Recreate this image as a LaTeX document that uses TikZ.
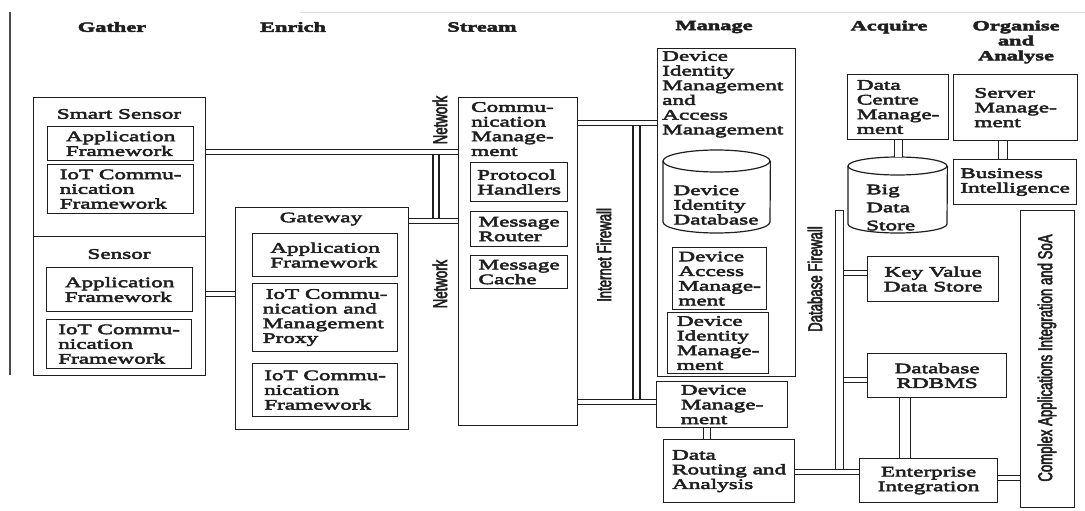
\documentclass[tikz,border=0pt]{standalone}
\usepackage{fontspec}
\setmainfont{Liberation Serif}[FakeStretch=1.6,FakeBold=3.5]
\newfontfamily\labelsans{Liberation Sans}[FakeStretch=0.66,FakeBold=2.5]
\newcommand\diagfont{\fontsize{14.5}{14.7}\selectfont}
\newcommand\headfont{\fontsize{14}{15}\selectfont\bfseries}
\newcommand\rotfont{\labelsans\fontsize{20}{22}\selectfont}
\definecolor{ink}{gray}{0.12}
\begin{document}
\begin{tikzpicture}[x=1pt,y=-1pt,
  ln/.style={draw=ink,line width=1.2pt},
  ibox/.style={ln,rectangle,anchor=north west,inner sep=0pt,align=left,font=\diagfont,text=ink},
  cbox/.style={ibox,align=center},
  outerbox/.style={ln,rectangle,anchor=north west,inner sep=0pt},
  txt/.style={inner sep=0pt,font=\diagfont,text=ink,align=left},
  hdr/.style={inner sep=0pt,font=\headfont,text=ink,align=center},
  sidelabel/.style={inner sep=0pt,font=\rotfont,text=ink,rotate=90},
  rails/.style 2 args={draw=ink,line width=#1,postaction={draw=white,line width=#2}},
  hlink/.style={rails={5.6pt}{3.2pt}}]

\useasboundingbox (0,0) rectangle (1085,511);
\fill[white] (0,0) rectangle (1085,511);
% page edges
\draw[black!70,line width=1.6pt] (10,12) -- (10,375);
\draw[black!12,line width=0.8pt] (300,12) -- (1085,12);

% column headings
\node[hdr] (hgather) at (112,27) {Gather};
\node[hdr] (henrich) at (293,27) {Enrich};
\node[hdr] (hstream) at (482,27) {Stream};
\node[hdr] (hmanage) at (714,27) {Manage};
\node[hdr] (hacquire) at (889,27) {Acquire};
\node[hdr] (horganise) at (1016,42) {Organise\\and\\Analyse};

% Gather: sensors
\node[outerbox,minimum width=172pt,minimum height=139pt] (ss) at (33,97) {};
\node[txt] (sstitle) at (119,114) {Smart Sensor};
\node[ibox,minimum width=146pt,minimum height=34pt] (ssapp) at (47,126) {Application\\Framework};
\node[ibox,minimum width=146pt,minimum height=49pt] (ssiot) at (47,164) {IoT Commu-\\nication\\Framework};
\node[outerbox,minimum width=172pt,minimum height=139pt] (sn) at (33,236) {};
\node[txt] (sntitle) at (119,254) {Sensor};
\node[ibox,minimum width=146pt,minimum height=44pt] (snapp) at (46,267) {Application\\Framework};
\node[ibox,minimum width=145pt,minimum height=49pt] (sniot) at (46,319) {IoT Commu-\\nication\\Framework};

% Enrich: gateway
\node[outerbox,minimum width=173pt,minimum height=222pt] (gw) at (235,207) {};
\node[txt] (gwtitle) at (321,219) {Gateway};
\node[ibox,minimum width=145pt,minimum height=43pt] (gwapp) at (252,233) {Application\\Framework};
\node[ibox,minimum width=145pt,minimum height=68pt] (gwproxy) at (252,283) {\hspace*{3pt}IoT Commu-\\nication and\\Management\\Proxy};
\node[ibox,minimum width=145pt,minimum height=53pt] (gwiot) at (252,363) {IoT Commu-\\nication\\Framework};

% Stream: communication management
\node[outerbox,minimum width=119pt,minimum height=328pt] (st) at (458,97) {};
\node[txt,anchor=north west] (sttitle) at (471,102) {Commu-\\nication\\Manage-\\ment};
\node[ibox,minimum width=97pt,minimum height=39pt] (stph) at (470,162) {Protocol\\Handlers};
\node[ibox,minimum width=97pt,minimum height=35pt] (stmr) at (470,211) {Message\\Router};
\node[ibox,minimum width=97pt,minimum height=33pt] (stmc) at (470,255) {Message\\Cache};

% Manage
\node[outerbox,minimum width=138pt,minimum height=328pt] (mg) at (657,48) {};
\node[txt,anchor=north west] (mgtitle) at (662,51) {Device\\Identity\\Management\\and\\Access\\Management};
\node[inner sep=0pt,minimum width=107pt,minimum height=83pt,anchor=north west] (did) at (663,150) {};
\draw[ln] (716.5,161) ellipse [x radius=53.5pt,y radius=11pt];
\draw[ln] (did.north west |- 0,161) -- (did.south west |- 0,222)
  arc[start angle=180,end angle=360,x radius=53.5pt,y radius=11pt] -- (did.north east |- 0,161);
\node[txt] (didtext) at (716,205) {Device\\Identity\\Database};
\node[ibox,minimum width=94pt,minimum height=62pt] (dam) at (672,247) {Device\\Access\\Manage-\\ment};
\node[ibox,minimum width=101pt,minimum height=61pt] (dim) at (667,312) {Device\\Identity\\Manage-\\ment};
\node[ibox,minimum width=131pt,minimum height=46pt] (dm) at (656,381) {Device\\Manage-\\ment};
\node[ibox,minimum width=131pt,minimum height=63pt] (dr) at (663,439) {Data\\Routing and\\Analysis};

% Acquire
\node[ibox,minimum width=101pt,minimum height=65pt] (dcm) at (847,74) {Data\\Centre\\Manage-\\ment};
\node[inner sep=0pt,minimum width=99pt,minimum height=76pt,anchor=north west] (bds) at (848,157) {};
\draw[ln] (897.5,166) ellipse [x radius=49.5pt,y radius=9pt];
\draw[ln] (bds.north west |- 0,166) -- (bds.south west |- 0,224)
  arc[start angle=180,end angle=360,x radius=49.5pt,y radius=9pt] -- (bds.north east |- 0,166);
\node[txt,anchor=west,font=\fontsize{14.5}{18}\selectfont] (bdstext) at (866,207.5) {Big\\Data\\Store};
\node[cbox,minimum width=131pt,minimum height=45pt] (kv) at (867,256) {Key Value\\Data Store};
\node[cbox,minimum width=139pt,minimum height=44pt] (rdb) at (867,353) {Database\\RDBMS};
\node[cbox,minimum width=138pt,minimum height=44pt] (ei) at (859,458) {Enterprise\\Integration};

% Organise and Analyse
\node[ibox,minimum width=124pt,minimum height=66pt] (sm) at (953,74) {Server\\Manage-\\ment};
\node[ibox,minimum width=123pt,minimum height=45pt] (bi) at (953,159) {Business\\Intelligence};
\node[outerbox,minimum width=54pt,minimum height=297pt] (ca) at (1020,210) {};
\node[sidelabel] (calabel) at (1047,358) {Complex Applications Integration and SoA};

% network and firewall rails
\coordinate (netA) at (436,152);
\coordinate (netB) at (436,221);
\draw[rails={7.2pt}{4.8pt}] (netA) -- (netB);
\coordinate (fwA) at (636.5,123);
\coordinate (fwB) at (636.5,402);
\draw[rails={8.2pt}{5.8pt}] (fwA) -- (fwB);
\node[outerbox,fill=white,minimum width=8pt,minimum height=262pt] (dbfw) at (835,210) {};

\node[sidelabel] (netup) at (440,120) {Network};
\node[sidelabel] (netlow) at (440,284) {Network};
\node[sidelabel] (fwlabel) at (604,255) {Internet Firewall};
\node[sidelabel] (dbfwlabel) at (815,279) {Database Firewall};

% horizontal links
\draw[hlink] (ss.east |- 0,152) -- (st.west |- 0,152);
\draw[hlink] (gw.east |- 0,221) -- (st.west |- 0,221);
\draw[hlink] (sn.east |- 0,294) -- (gw.west |- 0,294);
\draw[hlink] (st.east |- 0,123) -- (mg.west |- 0,123);
\draw[hlink] (st.east |- 0,402) -- (dm.west |- 0,402);
\draw[hlink] (dr.east |- 0,472) -- (ei.west |- 0,472);
\draw[hlink] (dbfw.east |- 0,273) -- (kv.west |- 0,273);
\draw[hlink] (dbfw.east |- 0,380) -- (rdb.west |- 0,380);
\draw[hlink] (ei.east |- 0,478) -- (ca.west |- 0,478);

% vertical links
\draw[rails={8.2pt}{5.8pt}] ([xshift=-15pt]dm.south) -- ([xshift=-15pt]dm.south |- dr.north);
\draw[rails={9.2pt}{6.8pt}] (dcm.south) -- (dcm.south |- bds.north);
\draw[rails={10.2pt}{7.8pt}] ([xshift=-12.5pt]sm.south) -- ([xshift=-12.5pt]sm.south |- bi.north);
\draw[rails={12.2pt}{9.8pt}] ([xshift=-32pt]rdb.south) -- ([xshift=-32pt]rdb.south |- ei.north);
\end{tikzpicture}
\end{document}
